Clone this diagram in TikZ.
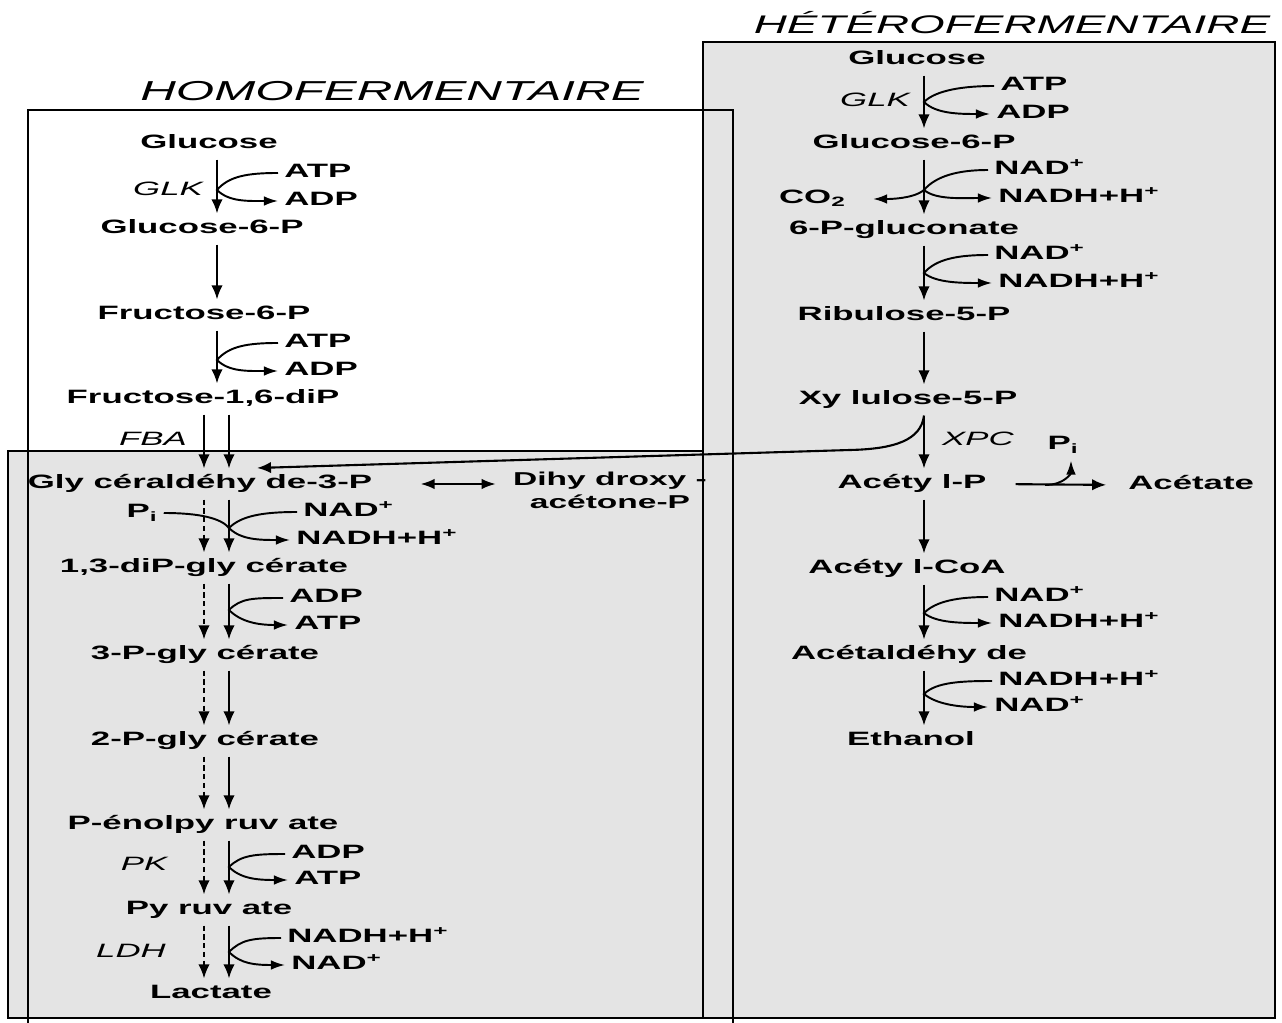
\documentclass[tikz,border=0pt]{standalone}
\usepackage{fontspec}
\setmainfont{Liberation Sans}[FakeStretch=1.8]
\usetikzlibrary{arrows.meta}
\usetikzlibrary{calc}
\definecolor{boxgray}{RGB}{228,228,228}

\begin{document}
\begin{tikzpicture}[x=0.02cm,y=-0.02cm,line width=1.2pt,
  flux/.style={-{Latex[length=8pt,width=6.5pt]}},
  met node/.style={font=\bfseries\fontsize{11}{13}\selectfont,inner sep=3pt,
  text height=8pt,text depth=2.5pt},
  cof node/.style={met node,anchor=west},
  enz node/.style={font=\itshape\fontsize{11}{13}\selectfont,inner sep=2pt},
  title node/.style={font=\itshape\fontsize{14.5}{17}\selectfont},
  cofac/.style={-{Latex[length=8pt,width=5.5pt]},line width=1.1pt}]
  \useasboundingbox[fill=white] (0,0) rectangle (1282,1023);

  % boxes
  \draw[fill=boxgray] (703,42) rectangle (1275,1018);
  \draw[fill=boxgray] (8,451) rectangle (703,1018);
  \draw[fill=white] (28,110) rectangle (703,451);
  \draw (28,1023) -- (28,110) -- (733,110) -- (733,1023);

  \node[title node,font=\itshape\fontsize{15.6}{18}\selectfont] (homo) at (392,91) {HOMOFERMENTAIRE};
  \node[title node] (hetero) at (1012,23) {HÉTÉROFERMENTAIRE};

  % stem positions
  \coordinate (hA) at (217,0);
  \coordinate (hD) at (204,0);
  \coordinate (hS) at (229,0);
  \coordinate (hH) at (924,0);

  % homofermentaire
  \node[met node] (glcA) at (209,144) {Glucose};
  \node[enz node] (glkA) at (168,189) {GLK};
  \node[cof node] (atpA) at (278,173) {ATP};
  \node[cof node] (adpA) at (278,201) {ADP};
  \node[met node] (g6pA) at (202,229) {Glucose-6-P};
  \node[met node] (f6p) at (204,315) {Fructose-6-P};
  \node[cof node] (atpB) at (278,343) {ATP};
  \node[cof node] (adpB) at (278,371) {ADP};
  \node[met node] (fbp) at (203,399) {Fructose-1,6-diP};
  \node[enz node] (fba) at (153,439) {FBA};
  \node[met node] (gap) at (200,484) {Gly céraldéhy de-3-P};
  \node[font=\bfseries\fontsize{10.6}{13}\selectfont,align=center] (dhap)
    at (610,490) {Dihy droxy -\\acétone-P};
  \node[met node] (piA) at (142,513) {P\textsubscript{i}};
  \node[cof node] (nadA) at (297,512) {NAD\textsuperscript{+}};
  \node[cof node] (nadhA) at (290,540) {NADH+H\textsuperscript{+}};
  \node[met node] (bpg) at (204,568) {1,3-diP-gly cérate};
  \node[cof node] (adpC) at (283,598) {ADP};
  \node[cof node] (atpC) at (288,625) {ATP};
  \node[met node] (pg3) at (205,655) {3-P-gly cérate};
  \node[met node] (pg2) at (205,741) {2-P-gly cérate};
  \node[met node] (pep) at (203,825) {P-énolpy ruv ate};
  \node[enz node] (pk) at (144,864) {PK};
  \node[cof node] (adpD) at (285,854) {ADP};
  \node[cof node] (atpD) at (288,880) {ATP};
  \node[met node] (pyr) at (209,910) {Py ruv ate};
  \node[enz node] (ldh) at (131,951) {LDH};
  \node[cof node] (nadhB) at (281,938) {NADH+H\textsuperscript{+}};
  \node[cof node] (nadB) at (285,965) {NAD\textsuperscript{+}};
  \node[met node] (lac) at (211,994) {Lactate};

  % heterofermentaire
  \node[met node] (glcB) at (917,60) {Glucose};
  \node[enz node] (glkB) at (875,100) {GLK};
  \node[cof node] (atpE) at (994,86) {ATP};
  \node[cof node] (adpE) at (990,114) {ADP};
  \node[met node] (g6pB) at (914,144) {Glucose-6-P};
  \node[cof node] (nadC) at (988,170) {NAD\textsuperscript{+}};
  \node[cof node] (nadhC) at (992,198) {NADH+H\textsuperscript{+}};
  \node[cof node,anchor=east] (co2) at (852,199) {CO\textsubscript{2}};
  \node[met node] (p6g) at (904,230) {6-P-gluconate};
  \node[cof node] (nadD) at (988,255) {NAD\textsuperscript{+}};
  \node[cof node] (nadhD) at (992,283) {NADH+H\textsuperscript{+}};
  \node[met node] (ru5p) at (904,316) {Ribulose-5-P};
  \node[met node] (xu5p) at (908,400) {Xy lulose-5-P};
  \node[enz node] (xpc) at (978,439) {XPC};
  \node[met node] (piB) at (1063,445) {P\textsubscript{i}};
  \node[met node] (acp) at (912,484) {Acéty l-P};
  \node[met node,anchor=west] (acet) at (1122,485) {Acétate};
  \node[met node] (accoa) at (907,569) {Acéty l-CoA};
  \node[cof node] (nadE) at (988,597) {NAD\textsuperscript{+}};
  \node[cof node] (nadhE) at (992,623) {NADH+H\textsuperscript{+}};
  \node[met node] (acald) at (909,655) {Acétaldéhy de};
  \node[cof node] (nadhF) at (992,681) {NADH+H\textsuperscript{+}};
  \node[cof node] (nadF) at (988,707) {NAD\textsuperscript{+}};
  \node[met node] (etoh) at (911,741) {Ethanol};

  % touch points of the cofactor curves
  \coordinate (tA) at (217,190);
  \coordinate (tB) at (217,360);
  \coordinate (tG) at (229,528);
  \coordinate (tC) at (229,610);
  \coordinate (tD) at (229,867);
  \coordinate (tE) at (229,952);
  \coordinate (tH1) at (924,102);
  \coordinate (tH2) at (924,190);
  \coordinate (tH3) at (924,273);
  \coordinate (tH4) at (924,613);
  \coordinate (tH5) at (924,694);
  \coordinate (bend) at (850,450);
  \coordinate (gapR) at (257,468);
  \coordinate (brP) at (1045,485);

  % main flux
  \path[flux]
    (glcA.south -| hA) edge (g6pA.north -| hA)
    (g6pA.south -| hA) edge (f6p.north -| hA)
    (f6p.south -| hA) edge (fbp.north -| hA)
    (fbp.south -| hD) edge (gap.north -| hD)
    (fbp.south -| hS) edge (gap.north -| hS)
    (gap.south -| hS) edge (bpg.north -| hS)
    (bpg.south -| hS) edge (pg3.north -| hS)
    (pg3.south -| hS) edge (pg2.north -| hS)
    (pg2.south -| hS) edge (pep.north -| hS)
    (pep.south -| hS) edge (pyr.north -| hS)
    (pyr.south -| hS) edge (lac.north -| hS);
  \path[flux,dash pattern=on 3pt off 2pt]
    (gap.south -| hD) edge (bpg.north -| hD)
    (bpg.south -| hD) edge (pg3.north -| hD)
    (pg3.south -| hD) edge (pg2.north -| hD)
    (pg2.south -| hD) edge (pep.north -| hD)
    (pep.south -| hD) edge (pyr.north -| hD)
    (pyr.south -| hD) edge (lac.north -| hD);
  \path[flux]
    (glcB.south -| hH) edge (g6pB.north -| hH)
    (g6pB.south -| hH) edge (p6g.north -| hH)
    (p6g.south -| hH) edge (ru5p.north -| hH)
    (ru5p.south -| hH) edge (xu5p.north -| hH)
    (xu5p.south -| hH) edge (acp.north -| hH)
    (acp.south -| hH) edge (accoa.north -| hH)
    (accoa.south -| hH) edge (acald.north -| hH)
    (acald.south -| hH) edge (etoh.north -| hH);

  \draw[{Latex[length=8pt,width=6pt]}-{Latex[length=8pt,width=6pt]},
    shorten <=24pt,shorten >=6pt] (gap.east) -- (dhap.west |- gap.east);
  \draw[flux] (xu5p.south -| hH) .. controls (921,440) and (895,449) .. (bend) -- (gapR);
  \draw[flux,shorten <=13pt,shorten >=9pt] (acp.east) -- (acet.west);
  \draw[cofac] (brP) .. controls +(20,0) and +(0,12) .. ($(piB.south)+(8,0)$);

  % cofactors
  \draw[cofac] (atpA.west) .. controls +(-30,0) and +(12,-14) .. (tA)
    .. controls +(12,12) and +(-30,0) .. (adpA.west);
  \draw[cofac] (atpB.west) .. controls +(-30,0) and +(12,-14) .. (tB)
    .. controls +(12,12) and +(-30,0) .. (adpB.west);
  \draw[cofac] (nadA.west) .. controls +(-35,0) and +(12,-12) .. (tG)
    .. controls +(12,12) and +(-30,0) .. (nadhA.west);
  \draw[line width=1.1pt] (piA.east) .. controls +(35,0) and +(-8,-10) .. (tG);
  \draw[cofac] (adpC.west) .. controls +(-30,0) and +(12,-12) .. (tC)
    .. controls +(12,12) and +(-30,0) .. (atpC.west);
  \draw[cofac] (adpD.west) .. controls +(-30,0) and +(12,-12) .. (tD)
    .. controls +(12,12) and +(-30,0) .. (atpD.west);
  \draw[cofac] (nadhB.west) .. controls +(-30,0) and +(12,-12) .. (tE)
    .. controls +(12,12) and +(-30,0) .. (nadB.west);
  \draw[cofac] (atpE.west) .. controls +(-30,0) and +(12,-12) .. (tH1)
    .. controls +(12,12) and +(-30,0) .. (adpE.west);
  \draw[cofac] (nadC.west) .. controls +(-30,0) and +(12,-14) .. (tH2)
    .. controls +(12,10) and +(-30,0) .. (nadhC.west);
  \draw[cofac,shorten >=12pt] (tH2) .. controls +(-12,10) and +(30,0) .. (co2.east);
  \draw[cofac] (nadD.west) .. controls +(-30,0) and +(12,-14) .. (tH3)
    .. controls +(12,10) and +(-30,0) .. (nadhD.west);
  \draw[cofac] (nadE.west) .. controls +(-30,0) and +(12,-12) .. (tH4)
    .. controls +(12,10) and +(-30,0) .. (nadhE.west);
  \draw[cofac] (nadhF.west) .. controls +(-30,0) and +(12,-12) .. (tH5)
    .. controls +(12,10) and +(-30,0) .. (nadF.west);
\end{tikzpicture}
\end{document}
